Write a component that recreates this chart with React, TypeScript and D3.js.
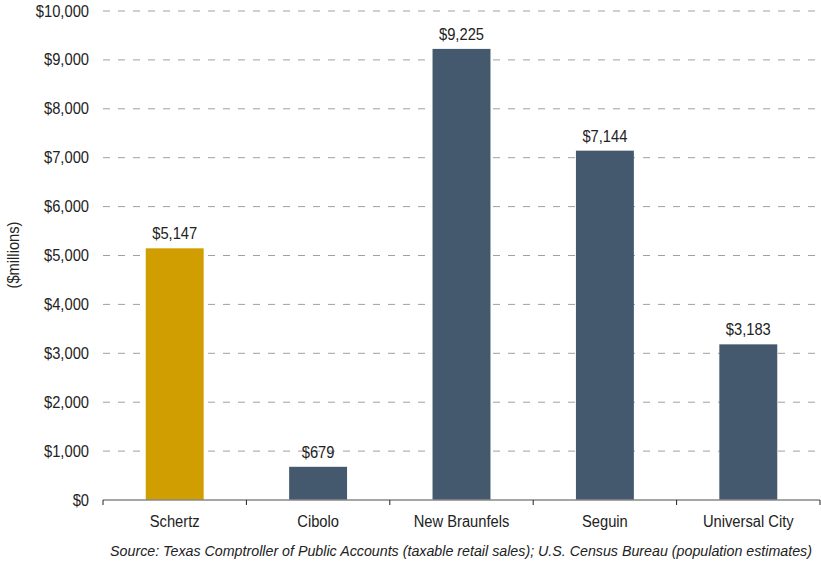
import React from "react";
import * as d3 from "d3";

const categories = ["Schertz", "Cibolo", "New Braunfels", "Seguin", "Universal City"];
const values = [5147, 679, 9225, 7144, 3183];
const barColors = ["#D09E00", "#44596E", "#44596E", "#44596E", "#44596E"];
const yTicks = [0, 1000, 2000, 3000, 4000, 5000, 6000, 7000, 8000, 9000, 10000];
const yTitle = "($millions)";
const sourceText = "Source: Texas Comptroller of Public Accounts (taxable retail sales); U.S. Census Bureau (population estimates)";

const W = 821, H = 568;
const left = 103, right = 820, top = 11, bottom = 500;
const font = "'Liberation Sans Narrow', 'Arial Narrow', 'Liberation Sans', Arial, sans-serif";
const SX = 0.92;

function T({ x, y, anchor, size, children, italic, rotate }: any) {
  const tr = `translate(${x},${y})${rotate ? ` rotate(${rotate})` : ""} scale(${SX},1)`;
  return (
    <text transform={tr} textAnchor={anchor} fontFamily={font} fontSize={size} fontStyle={italic ? "italic" : "normal"} fill="#222">
      {children}
    </text>
  );
}

export default function App() {
  const x = d3.scaleBand<string>().domain(categories).range([left, right]).paddingInner(0.596).paddingOuter(0.298);
  const xb = d3.scaleBand<string>().domain(categories).range([left, right]);
  const y = d3.scaleLinear().domain([0, 10000]).range([bottom, top]);
  const fmt = (v: number) => "$" + d3.format(",")(v);
  const boundaries = [...categories.map((c) => xb(c) as number), right];
  return (
    <svg width={W} height={H} style={{ position: "absolute", left: 0, top: 0, background: "#fff" }}>
      {yTicks.filter((t) => t > 0).map((t) => (
        <line key={t} x1={left} x2={right} y1={y(t)} y2={y(t)} stroke="#a0a0a0" strokeWidth={1} strokeDasharray="7,8" />
      ))}
      {yTicks.map((t) => (
        <T key={"l" + t} x={89} y={y(t) + 5.5} anchor="end" size={16}>
          {fmt(t)}
        </T>
      ))}
      {categories.map((c, i) => (
        <g key={c}>
          <rect x={x(c)} y={y(values[i])} width={x.bandwidth()} height={bottom - y(values[i])} fill={barColors[i]} />
          <T x={(x(c) as number) + x.bandwidth() / 2} y={y(values[i]) - 9} anchor="middle" size={16}>
            {fmt(values[i])}
          </T>
          <T x={(x(c) as number) + x.bandwidth() / 2} y={527} anchor="middle" size={16}>
            {c}
          </T>
        </g>
      ))}
      <line x1={left} x2={right} y1={bottom} y2={bottom} stroke="#888" strokeWidth={1.5} />
      {boundaries.map((b, i) => (
        <line key={"t" + i} x1={b} x2={b} y1={bottom} y2={bottom + 5} stroke="#222" strokeWidth={1} />
      ))}
      <T x={19} y={255} rotate={-90} anchor="middle" size={16}>
        {yTitle}
      </T>
      <T x={461} y={556} anchor="middle" size={15.5} italic>
        {sourceText}
      </T>
    </svg>
  );
}
